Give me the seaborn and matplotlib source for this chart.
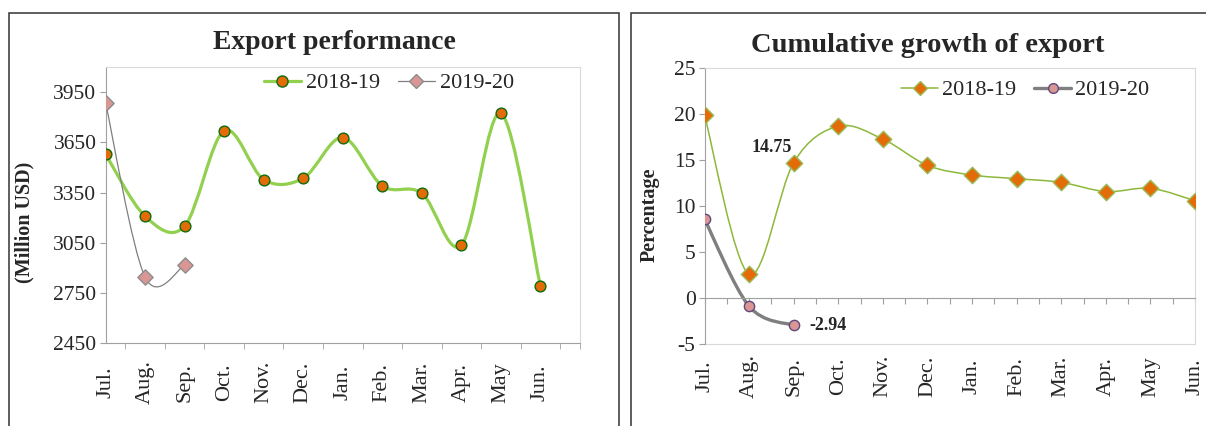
import numpy as np
import pandas as pd
import matplotlib
matplotlib.use("Agg")
import matplotlib.pyplot as plt
import seaborn as sns
from matplotlib.path import Path
from matplotlib.patches import PathPatch, Rectangle
from matplotlib.lines import Line2D

# ---- data ----
months = ["Jul.", "Aug.", "Sep.", "Oct.", "Nov.", "Dec.",
          "Jan.", "Feb.", "Mar.", "Apr.", "May", "Jun."]
export_1819 = [3580, 3209, 3150, 3719, 3428, 3436, 3679, 3390, 3346, 3036, 3824, 2791]
export_1920 = [3888, 2846, 2916]
growth_1819 = [19.9, 2.6, 14.75, 18.7, 17.3, 14.45, 13.4, 13.0, 12.6, 11.6, 11.95, 10.6]
growth_1920 = [8.6, -0.87, -2.94]
series = ["2018-19", "2019-20"]

GREEN = "#92D050"
ORANGE = "#E36C09"
PINK = "#D99694"
GREY = "#7F7F7F"
AXIS = "#A0A0A0"
BOX = "#D9D9D9"


def smooth_path(x, y, k=6):
    # Excel style smoothed line: cubic bezier through every point
    pts = np.column_stack([x, y]).astype(float)
    n = len(pts)
    verts = [pts[0]]
    codes = [Path.MOVETO]
    for i in range(n - 1):
        p0 = pts[i - 1] if i > 0 else pts[i]
        p1, p2 = pts[i], pts[i + 1]
        p3 = pts[i + 2] if i + 2 < n else pts[i + 1]
        verts += [p1 + (p2 - p0) / k, p2 - (p3 - p1) / k, p2]
        codes += [Path.CURVE4] * 3
    return Path(verts, codes)


def draw_series(ax, y, color, lw, marker, face, edge, size):
    x = np.arange(len(y))
    ax.add_patch(PathPatch(smooth_path(x, y), facecolor="none", edgecolor=color,
                           lw=lw, zorder=2, capstyle="round"))
    sns.scatterplot(x=x, y=y, ax=ax, marker=marker, color=face, edgecolor=edge,
                    linewidth=1.0, s=size, zorder=3, legend=False)


sns.set_style("white")
plt.rcParams["font.family"] = ["Liberation Serif", "DejaVu Serif"]
plt.rcParams["axes.unicode_minus"] = False

fig = plt.figure(figsize=(12.06, 4.26), dpi=100)

# panel frames
fig.add_artist(Rectangle((0.0077, -0.05), 0.5058, 1.0188, transform=fig.transFigure,
                         fill=False, edgecolor="#333333", lw=1.1))
fig.add_artist(Rectangle((0.523, -0.05), 0.55, 1.0188, transform=fig.transFigure,
                         fill=False, edgecolor="#333333", lw=1.1))

# ================= left: export performance =================
ax1 = fig.add_axes([0.0875, 0.1941, 0.3934, 0.6486])
draw_series(ax1, export_1819, GREEN, 2.3, "o", ORANGE, "#0E6B0E", 60)
draw_series(ax1, export_1920, GREY, 0.9, "D", PINK, "#8C8C8C", 60)

ax1.set_xlim(0, 12)
ax1.set_ylim(2450, 4100)
ax1.set_yticks(np.arange(2450, 4000, 300))
ax1.set_xticks(np.arange(len(months)), months, rotation=90)
ax1.set_xticks(list(np.arange(0.5, 12, 1)) + [12], minor=True)
ax1.tick_params(axis="x", which="major", length=0, pad=28, labelsize=16)
ax1.tick_params(axis="x", which="minor", direction="out", length=4.5, color=AXIS, bottom=True)
ax1.tick_params(axis="y", direction="out", length=4.5, color=AXIS, left=True, labelsize=15.5, pad=2)
for lab in ax1.get_xticklabels():
    lab.set_va("center")
for side in ["left", "bottom"]:
    ax1.spines[side].set_color(AXIS)
for side in ["top", "right"]:
    ax1.spines[side].set_color(BOX)

h1 = [Line2D([], [], color=GREEN, lw=2.3, marker="o", markerfacecolor=ORANGE,
             markeredgecolor="#0E6B0E", markersize=8),
      Line2D([], [], color=GREY, lw=0.9, marker="D", markerfacecolor=PINK,
             markeredgecolor="#8C8C8C", markersize=7)]
ax1.legend(h1, series, loc="center", bbox_to_anchor=(0.598, 0.942), ncol=2, frameon=False,
           fontsize=16, handlelength=1.65, handletextpad=0.25, columnspacing=0.8,
           borderpad=0, borderaxespad=0)

fig.text(0.277, 0.8843, "Export performance", ha="center", va="baseline",
         fontsize=20, fontweight="bold")
fig.text(0.0207, 0.479, "(Million USD)", ha="center", va="center", rotation=90,
         fontsize=14.5, fontweight="bold")

# ================= right: cumulative growth =================
ax2 = fig.add_axes([0.5842, 0.1918, 0.4067, 0.6479])
draw_series(ax2, growth_1819, "#8DB83A", 1.1, "D", ORANGE, "#9BBB59", 70)
draw_series(ax2, growth_1920, GREY, 2.4, "o", PINK, "#604A7B", 55)

ax2.set_xlim(0, 11)
ax2.set_ylim(-5, 25)
ax2.set_yticks(np.arange(-5, 26, 5))
ax2.set_xticks(np.arange(0, 11.01, 0.5))
ax2.tick_params(axis="x", direction="out", length=4.5, color=AXIS, bottom=True, labelbottom=False)
ax2.tick_params(axis="y", direction="out", length=4.5, color=AXIS, left=True, labelsize=15.5, pad=2)
ax2.spines["bottom"].set_position(("data", 0))
ax2.spines["bottom"].set_color(AXIS)
ax2.spines["left"].set_color(AXIS)
for side in ["top", "right"]:
    ax2.spines[side].set_color(BOX)

sec = ax2.secondary_xaxis("bottom")
sec.set_xticks(np.arange(len(months)), months, rotation=90)
sec.tick_params(length=0, pad=23, labelsize=16)
sec.spines["bottom"].set_color(BOX)
for lab in sec.get_xticklabels():
    lab.set_va("center")

ax2.annotate(f"{growth_1819[2]:.2f}", xy=(2, growth_1819[2]), xytext=(-1, 5),
             textcoords="offset points", ha="right", va="bottom",
             fontsize=13, fontweight="bold")
ax2.annotate(f"{growth_1920[2]:.2f}", xy=(2, growth_1920[2]), xytext=(11.5, 0),
             textcoords="offset points", ha="left", va="center",
             fontsize=13, fontweight="bold")

h2 = [Line2D([], [], color="#8DB83A", lw=1.1, marker="D", markerfacecolor=ORANGE,
             markeredgecolor="#9BBB59", markersize=7),
      Line2D([], [], color=GREY, lw=2.4, marker="o", markerfacecolor=PINK,
             markeredgecolor="#604A7B", markersize=7)]
ax2.legend(h2, series, loc="center", bbox_to_anchor=(0.654, 0.921), ncol=2, frameon=False,
           fontsize=16, handlelength=1.65, handletextpad=0.2, columnspacing=0.8,
           borderpad=0, borderaxespad=0)

fig.text(0.7695, 0.8787, "Cumulative growth of export", ha="center", va="baseline",
         fontsize=20.5, fontweight="bold")
fig.text(0.539, 0.495, "Percentage", ha="center", va="center", rotation=90,
         fontsize=14.5, fontweight="bold")

fig.savefig("out.png", dpi=100)
